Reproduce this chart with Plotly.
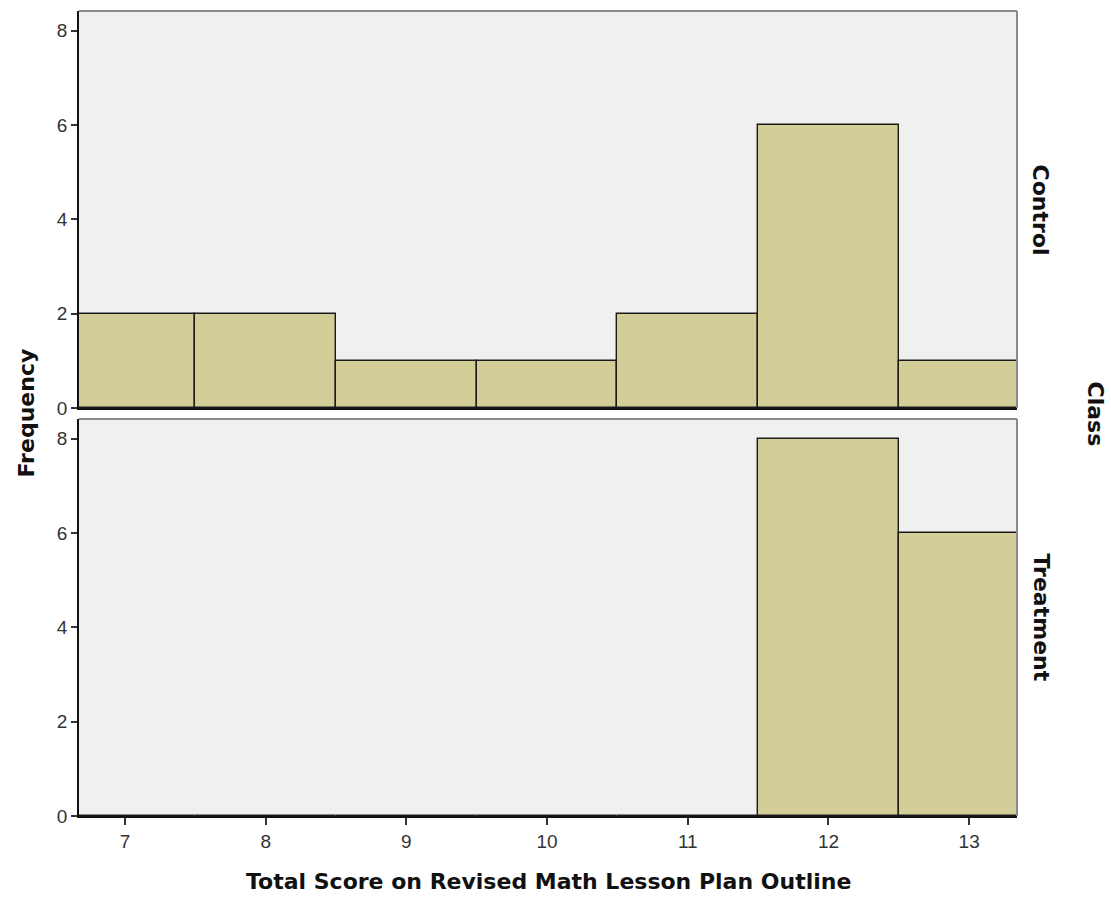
import plotly.graph_objects as go
from plotly.subplots import make_subplots

# Histogram counts per total score, by class
scores = [7, 8, 9, 10, 11, 12, 13]
control_counts = [2, 2, 1, 1, 2, 6, 1]
treatment_counts = [0, 0, 0, 0, 0, 8, 6]
panel_labels = ["Control", "Treatment"]
y_ticks = [0, 2, 4, 6, 8]

BAR_FILL = "#D3CE97"
PANEL_BG = "#F0F0F0"
TICK_FAMILY = "Liberation Sans, Arial, sans-serif"
TITLE_FAMILY = "DejaVu Sans, Verdana, sans-serif"

fig = make_subplots(rows=2, cols=1, shared_xaxes=True, vertical_spacing=0.0137)

for row, counts in enumerate([control_counts, treatment_counts], start=1):
    fig.add_trace(
        go.Bar(
            x=scores,
            y=counts,
            width=1,
            marker=dict(color=BAR_FILL, line=dict(color="#1a1a1a", width=1.4)),
            showlegend=False,
            hoverinfo="x+y",
        ),
        row=row, col=1,
    )

x_range = [6.673, 13.34]
y_range = [0, 8.42]
tick_font = dict(family=TICK_FAMILY, size=19, color="#333")

for row in (1, 2):
    fig.update_yaxes(
        range=y_range, tickvals=y_ticks, ticks="outside", ticklen=6,
        tickcolor="#333", tickwidth=1.8, showgrid=False, zeroline=False,
        showline=True, linecolor="#111", linewidth=1.6,
        tickfont=tick_font,
        row=row, col=1,
    )
    fig.update_xaxes(
        range=x_range, tickvals=scores,
        ticks="outside" if row == 2 else "", ticklen=7,
        tickcolor="#333", tickwidth=1.8, showgrid=False, zeroline=False,
        showline=True, linecolor="#111", linewidth=1.6,
        tickfont=tick_font,
        showticklabels=(row == 2),
        row=row, col=1,
    )

# Gray top/right borders of each panel
for xref, yref in (("x domain", "y domain"), ("x2 domain", "y2 domain")):
    fig.add_shape(type="line", xref=xref, yref=yref, x0=0, x1=1, y0=1, y1=1,
                  line=dict(color="#8a8a8a", width=2))
    fig.add_shape(type="line", xref=xref, yref=yref, x0=1, x1=1, y0=0, y1=1,
                  line=dict(color="#8a8a8a", width=2))

# Panel labels on the right and shared axis titles
label_font = dict(family=TITLE_FAMILY, size=22, color="#111")
fig.add_annotation(text="<b>Control</b>", xref="paper", yref="y domain",
                   x=1.0, xanchor="center", xshift=24, y=0.5, yanchor="middle",
                   textangle=90, showarrow=False, font=label_font)
fig.add_annotation(text="<b>Treatment</b>", xref="paper", yref="y2 domain",
                   x=1.0, xanchor="center", xshift=24, y=0.5, yanchor="middle",
                   textangle=90, showarrow=False, font=label_font)
fig.add_annotation(text="<b>Class</b>", xref="paper", yref="paper",
                   x=1.0, xanchor="center", xshift=78, y=0.5, yanchor="middle",
                   textangle=90, showarrow=False, font=label_font)
fig.add_annotation(text="<b>Frequency</b>", xref="paper", yref="paper",
                   x=0.0, xanchor="center", xshift=-53, y=0.5, yanchor="middle",
                   textangle=-90, showarrow=False, font=label_font)
fig.add_annotation(text="<b>Total Score on Revised Math Lesson Plan Outline</b>",
                   xref="paper", yref="paper", x=0.5, xanchor="center",
                   y=0.0, yanchor="middle", yshift=-65,
                   showarrow=False, font=label_font)

fig.update_layout(
    width=1111, height=898,
    margin=dict(l=79, r=94, t=11, b=82),
    paper_bgcolor="white",
    plot_bgcolor=PANEL_BG,
    bargap=0,
    font=dict(family=TICK_FAMILY),
)

fig.write_html("out.html")
